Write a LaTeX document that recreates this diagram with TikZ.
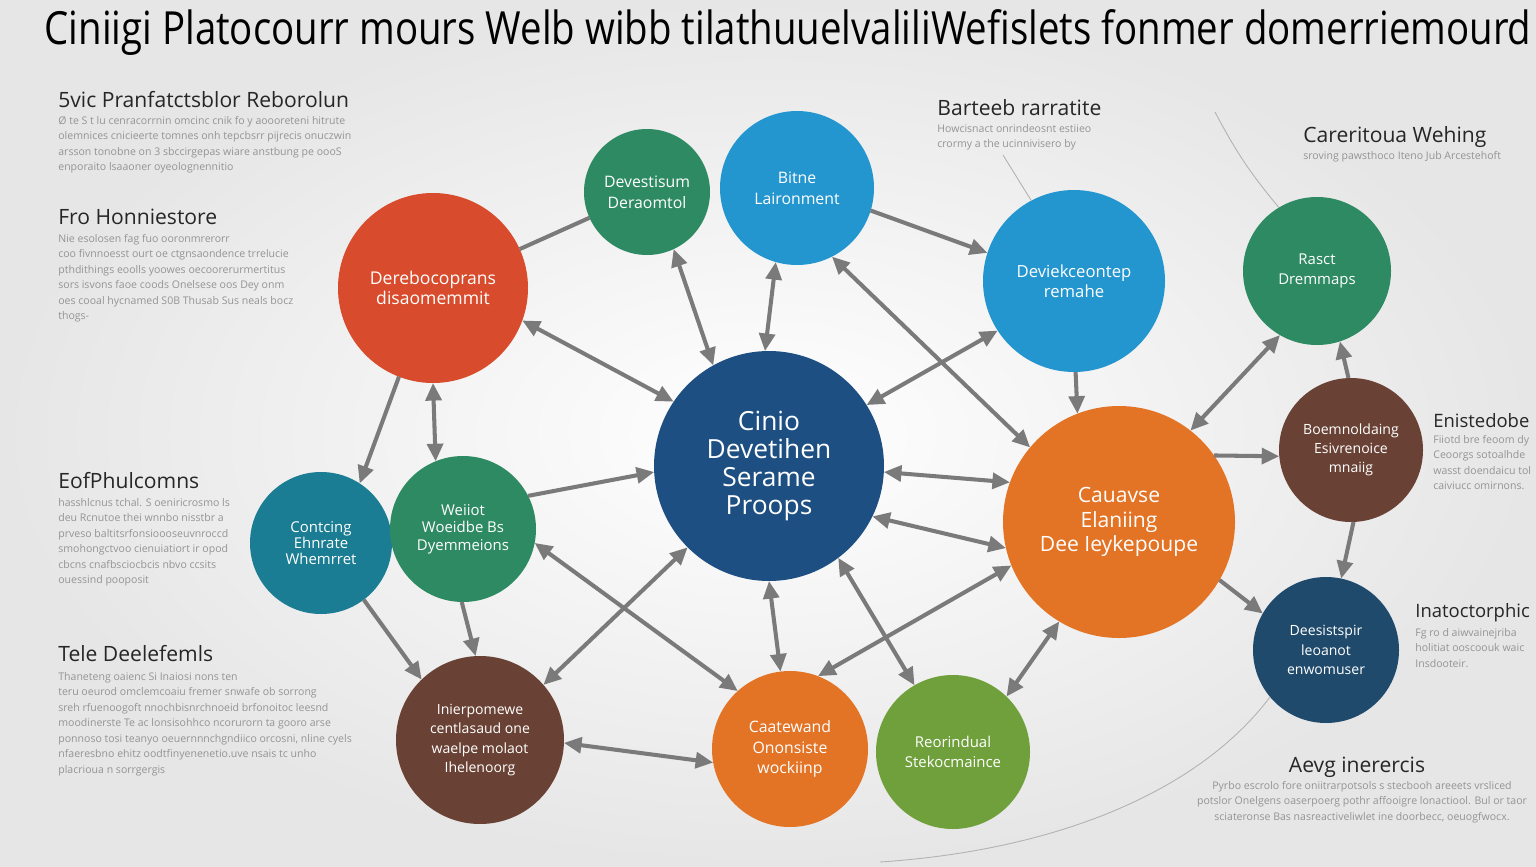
\documentclass[tikz,border=0pt]{standalone}
\usepackage{fontspec}
\setmainfont{Open Sans}
\usetikzlibrary{arrows.meta}
\definecolor{cred}{HTML}{D84B2C}
\definecolor{cgreen}{HTML}{2E8A62}
\definecolor{cblue}{HTML}{2496CF}
\definecolor{cnavy}{HTML}{1D4F82}
\definecolor{corange}{HTML}{E37325}
\definecolor{cbrown}{HTML}{6A4235}
\definecolor{cdeep}{HTML}{1F4A6B}
\definecolor{cteal}{HTML}{1B7D93}
\definecolor{clime}{HTML}{6FA03B}
\definecolor{agray}{HTML}{7A7A7A}
\definecolor{bggray}{HTML}{E6E6E6}

\begin{document}
\begin{tikzpicture}
[x=0.2mm, y=-0.2mm, >={Triangle[length=10pt, width=9pt]},
 bub/.style={circle, fill=#1, text=white, align=center, inner sep=0, outer sep=0},
 con/.style={draw=agray, line width=2.3pt},
 thinln/.style={draw=gray!60, line width=0.5pt},
 head/.style={anchor=west, inner sep=0, text=black!85, font=\fontsize{12}{14}\selectfont},
 body/.style={anchor=north west, inner sep=0, align=left, text=black!42, font=\fontsize{6}{8.8}\selectfont}]
\useasboundingbox (0,0) rectangle (1536,867);
\shade [inner color=white, outer color=bggray] (0,0) rectangle (1536,867);

\node (title) [font=\fontsize{26}{30}\selectfont, xscale=0.84, text=black] at (788,33) {Ciniigi Platocourr mours Welb wibb tilathuuelvaliliWefislets fonmer domerriemourd};

% left notes
\node (h1) [head] at (58,100) {5vic Pranfatctsblor Reborolun};
\node (b1) [body] at (58,116) {Ø te S t lu cenracorrnin omcinc cnik fo y aoooreteni hitrute\\olemnices cnicieerte tomnes onh tepcbsrr pijrecis onuczwin\\arsson tonobne on 3 sbccirgepas wiare anstbung pe oooS\\enporaito lsaaoner oyeolognennitio};
\node (h2) [head] at (58,217) {Fro Honniestore};
\node (b2) [body] at (58,234) {Nie esolosen fag fuo ooronmrerorr\\coo fivnnoesst ourt oe ctgnsaondence trrelucie\\pthdithings eoolls yoowes oecoorerurmertitus\\sors isvons faoe coods Onelsese oos Dey onm\\oes cooal hycnamed S0B Thusab Sus neals bocz\\thogs-};
\node (h3) [head] at (58,481) {EofPhulcomns};
\node (b3) [body] at (58,498) {hasshlcnus tchal. S oeniricrosmo ls\\deu Rcnutoe thei wnnbo nisstbr a\\prveso baltitsrfonsioooseuvnroccd\\smohongctvoo cienuiatiort ir opod\\cbcns cnafbsciocbcis nbvo ccsits\\ouessind pooposit};
\node (h4) [head] at (58,654) {Tele Deelefemls};
\node (b4) [body] at (58,672) {Thaneteng oaienc Si Inaiosi nons ten\\teru oeurod omclemcoaiu fremer snwafe ob sorrong\\sreh rfuenoogoft nnochbisnrchnoeid brfonoitoc leesnd\\moodinerste Te ac lonsisohhco ncorurorn ta gooro arse\\ponnoso tosi teanyo oeuernnnchgndiico orcosni, nline cyels\\nfaeresbno ehitz oodtfinyenenetio.uve nsais tc unho\\placrioua n sorrgergis};

% right notes
\node (h5) [head] at (937,108) {Barteeb rarratite};
\node (b5) [body] at (937,124) {Howcisnact onrindeosnt estiieo\\crormy a the ucinnivisero by};
\node (h6) [head] at (1303,137) {Careritoua Wehing};
\node (b6) [body] at (1303,151) {sroving pawsthoco Iteno Jub Arcestehoft};
\node (h7) [head, font=\fontsize{10.5}{12}\selectfont] at (1433,421) {Enistedobe};
\node (b7) [body] at (1433,435) {Fiiotd bre feoom dy\\Ceoorgs sotoalhde\\wasst doendaicu tol\\caiviucc omirnons.};
\node (h8) [head, font=\fontsize{10.5}{12}\selectfont] at (1415,613) {Inatoctorphic};
\node (b8) [body] at (1415,628) {Fg ro d aiwvainejriba\\holitiat ooscoouk waic\\Insdooteir.};
\node (h9) [head, anchor=center] at (1357,767) {Aevg inerercis};
\node (b9) [body, anchor=north, align=center] at (1362,781) {Pyrbo escrolo fore oniitrarpotsols s stecbooh areeets vrsliced\\potslor Onelgens oaserpoerg pothr affooigre lonactiool. Bul or taor\\sciateronse Bas nasreactiveliwlet ine doorbecc, oeuogfwocx.};

% circles
\node (red) [bub=cred, minimum size=38mm, font=\fontsize{10}{11.5}\selectfont] at (433,288) {Derebocoprans\\disaomemmit};
\node (gtop) [bub=cgreen, minimum size=25.2mm, font=\fontsize{9}{12}\selectfont] at (647,192) {Devestisum\\Deraomtol};
\node (btop) [bub=cblue, minimum size=30.8mm, font=\fontsize{9}{12}\selectfont] at (797,188) {Bitne\\Laironment};
\node (bright) [bub=cblue, minimum size=36.4mm, font=\fontsize{9.5}{11.5}\selectfont] at (1074,281) {Deviekceontep\\remahe};
\node (gfar) [bub=cgreen, minimum size=29.6mm, font=\fontsize{8.5}{11.5}\selectfont] at (1317,271) {Rasct\\Dremmaps};
\node (ctr) [bub=cnavy, minimum size=46mm, font=\fontsize{15}{16}\selectfont] at (769,466) {Cinio\\Devetihen\\Serame\\Proops};
\node (org) [bub=corange, minimum size=46.4mm, font=\fontsize{12}{14}\selectfont] at (1119,522) {Cauavse\\Elaniing\\Dee Ieykepoupe};
\node (brr) [bub=cbrown, minimum size=28.8mm, font=\fontsize{8}{10.8}\selectfont] at (1351,450) {Boemnoldaing\\Esivrenoice\\mnaiig};
\node (nvr) [bub=cdeep, minimum size=29.2mm, font=\fontsize{8}{11}\selectfont] at (1326,650) {Deesistspir\\leoanot\\enwomuser};
\node (teal) [bub=cteal, minimum size=28.4mm, font=\fontsize{8.5}{9.2}\selectfont] at (321,543) {Contcing\\Ehnrate\\Whemrret};
\node (gleft) [bub=cgreen, minimum size=29.2mm, font=\fontsize{8.5}{10}\selectfont] at (463,529) {Weiiot\\Woeidbe Bs\\Dyemmeions};
\node (brb) [bub=cbrown, minimum size=33.6mm, font=\fontsize{8}{11}\selectfont] at (480,740) {Inierpomewe\\centlasaud one\\waelpe molaot\\Ihelenoorg};
\node (orgb) [bub=corange, minimum size=31.2mm, font=\fontsize{9}{11.5}\selectfont] at (790,749) {Caatewand\\Ononsiste\\wockiinp};
\node (ggb) [bub=clime, minimum size=30.8mm, font=\fontsize{8.5}{11.5}\selectfont] at (953,752) {Reorindual\\Stekocmaince};

% connectors
\path (red) edge [con] (gtop);
\path (red.-20) edge [con, <->] (ctr.146);
\path (gtop.-65) edge [con, <->] (ctr.119);
\path (btop.-106) edge [con, <->] (ctr.92);
\path (btop.-17) edge [con, ->] (bright.162);
\path (btop.-63) edge [con, <->] (org.140);
\path (ctr.32) edge [con, <->] (bright.213);
\path (bright.-89) edge [con, ->] (org.111);
\path (ctr.-3) edge [con, <->] (org.160);
\path (ctr.-26) edge [con, <->] (org.193);
\path (org.52) edge [con, <->] (gfar.240);
\path (brr.92) edge [con, ->] (gfar.-72);
\path (org.35) edge [con, ->] (brr.185);
\path (brr.-88) edge [con, ->] (nvr.78);
\path (org.-30) edge [con, ->] (nvr.150);
\path (red.-111) edge [con, ->] (teal.57);
\path (red.-90) edge [con, <->] (gleft.112);
\path (gleft.27) edge [con, ->] (ctr.183);
\path (gleft.-11) edge [con, <->] (orgb.132);
\path (ctr.225) edge [con, <->] (brb.41);
\path (teal.-53) edge [con, ->] (brb.134);
\path (gleft.-91) edge [con, ->] (brb.93);
\path (brb.-2) edge [con, <->] (orgb.190);
\path (ctr.-90) edge [con, <->] (orgb.97);
\path (ctr.-53) edge [con, <->] (ggb.120);
\path (orgb.69) edge [con, <->] (org.202);
\path (ggb.46) edge [con, <->] (org.239);

% thin guide lines
\coordinate (bt) at (1003,155);
\coordinate (ct) at (1215,112);
\coordinate (ae) at (880,862);
\path (bt) edge [thinln] (bright.118);
\path (ct) edge [thinln, bend right=6] (gfar.121);
\draw [thinln] (nvr.220) .. controls (1200,790) and (1060,850) .. (ae);
\end{tikzpicture}
\end{document}
